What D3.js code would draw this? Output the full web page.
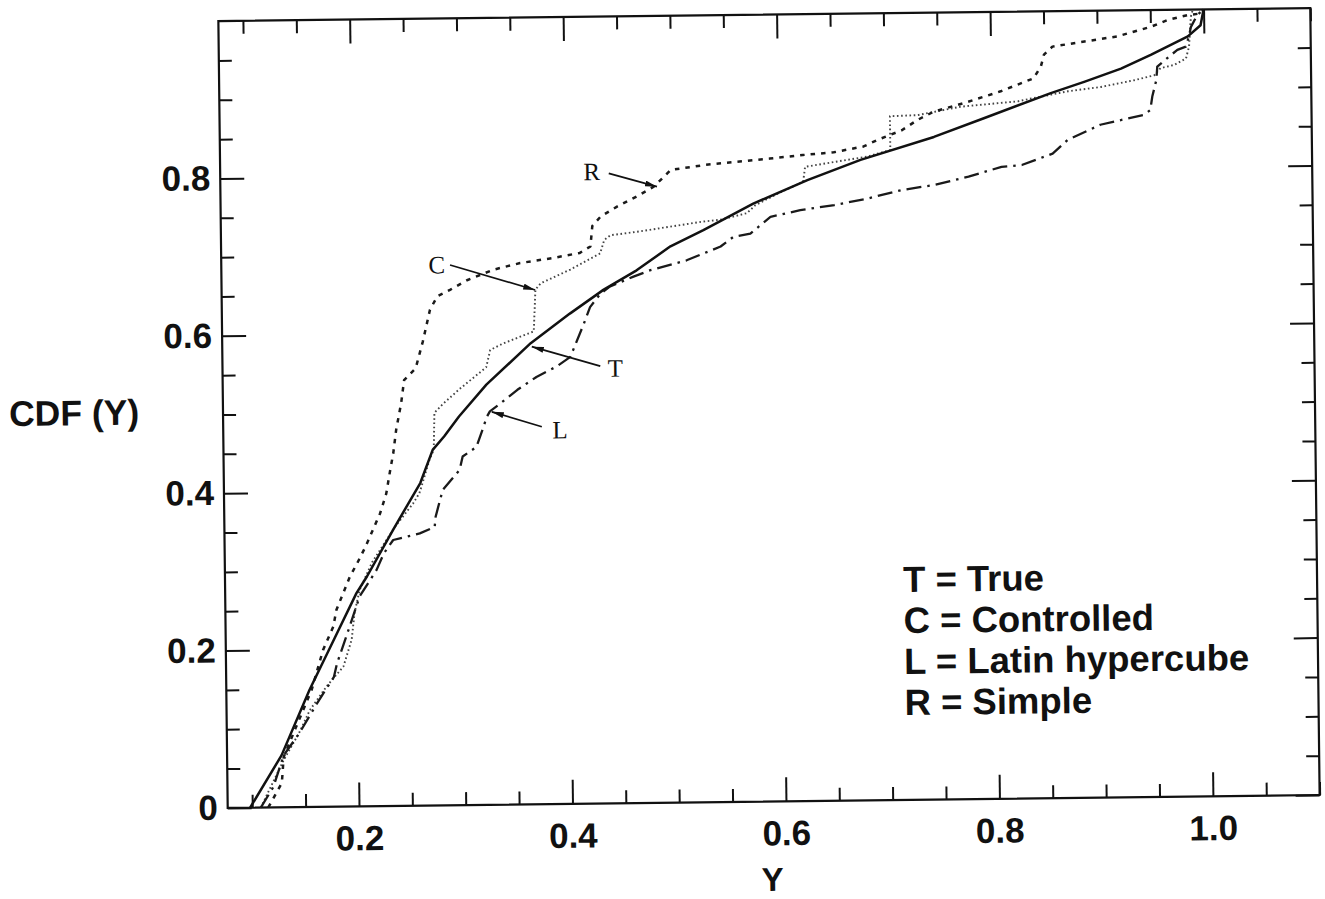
<!DOCTYPE html>
<html>
<head>
<meta charset="utf-8">
<script src="https://cdn.jsdelivr.net/npm/d3@7"></script>
<style>
  html, body { margin: 0; padding: 0; background: #fff; }
  svg { display: block; }
</style>
</head>
<body>
<svg id="chart" width="1325" height="899"></svg>
<script>
// ---------- data ----------
const xMajorTicks = [0.2, 0.4, 0.6, 0.8, 1.0];
const yMajorTicks = [0, 0.2, 0.4, 0.6, 0.8, 1.0];
const yTickLabels = [0, 0.2, 0.4, 0.6, 0.8];

// T = True (solid)
const seriesT = [[0.098,0],[0.128,0.066],[0.155,0.149],[0.179,0.214],[0.2,0.271],[0.21,0.292],[0.235,0.351],[0.261,0.41],[0.273,0.452],[0.284,0.469],[0.298,0.494],[0.324,0.534],[0.366,0.586],[0.403,0.623],[0.435,0.653],[0.466,0.677],[0.498,0.707],[0.529,0.727],[0.576,0.76],[0.627,0.789],[0.677,0.814],[0.746,0.842],[0.793,0.865],[0.856,0.896],[0.888,0.91],[0.922,0.926],[0.95,0.943],[0.985,0.966],[0.997,0.98],[1.0,1.0]];

// C = Controlled (dotted)
const seriesC = [[0.108,0],[0.13,0.06],[0.145,0.095],[0.155,0.123],[0.171,0.153],[0.187,0.178],[0.195,0.212],[0.198,0.246],[0.203,0.275],[0.215,0.31],[0.237,0.355],[0.244,0.367],[0.254,0.384],[0.26,0.397],[0.262,0.405],[0.27,0.44],[0.274,0.452],[0.275,0.499],[0.283,0.51],[0.299,0.529],[0.324,0.556],[0.328,0.578],[0.34,0.586],[0.369,0.601],[0.371,0.654],[0.376,0.662],[0.404,0.679],[0.432,0.699],[0.436,0.716],[0.442,0.722],[0.467,0.726],[0.498,0.732],[0.529,0.738],[0.545,0.74],[0.57,0.748],[0.578,0.758],[0.6,0.773],[0.623,0.787],[0.625,0.806],[0.683,0.818],[0.705,0.826],[0.705,0.869],[0.731,0.87],[0.771,0.88],[0.825,0.886],[0.84,0.89],[0.872,0.898],[0.903,0.903],[0.934,0.911],[0.953,0.917],[0.959,0.926],[0.972,0.93],[0.983,0.938],[0.986,0.953],[0.988,0.991],[0.99,1.0]];

// L = Latin hypercube (dash-dot)
const seriesL = [[0.108,0],[0.12,0.026],[0.13,0.066],[0.145,0.094],[0.162,0.132],[0.178,0.165],[0.181,0.182],[0.191,0.22],[0.203,0.267],[0.219,0.3],[0.226,0.321],[0.235,0.338],[0.26,0.346],[0.274,0.354],[0.275,0.367],[0.282,0.401],[0.298,0.426],[0.301,0.443],[0.314,0.455],[0.321,0.481],[0.324,0.493],[0.327,0.5],[0.337,0.51],[0.353,0.527],[0.371,0.543],[0.39,0.556],[0.403,0.568],[0.416,0.61],[0.422,0.631],[0.432,0.648],[0.441,0.657],[0.463,0.669],[0.479,0.677],[0.513,0.689],[0.545,0.706],[0.557,0.718],[0.573,0.722],[0.592,0.743],[0.62,0.751],[0.652,0.757],[0.684,0.765],[0.715,0.775],[0.746,0.781],[0.778,0.791],[0.809,0.803],[0.828,0.805],[0.857,0.819],[0.871,0.836],[0.902,0.855],[0.943,0.867],[0.949,0.873],[0.951,0.89],[0.955,0.911],[0.956,0.928],[0.963,0.936],[0.975,0.949],[0.983,0.953],[0.986,0.966],[0.988,0.978],[0.994,0.993],[1.0,1.0]];

// R = Simple (dashed)
const seriesR = [[0.115,0],[0.128,0.031],[0.13,0.064],[0.142,0.102],[0.157,0.149],[0.168,0.199],[0.178,0.229],[0.181,0.25],[0.194,0.292],[0.201,0.309],[0.209,0.33],[0.223,0.372],[0.229,0.397],[0.233,0.427],[0.236,0.448],[0.239,0.478],[0.244,0.512],[0.247,0.541],[0.258,0.556],[0.265,0.59],[0.272,0.63],[0.279,0.647],[0.291,0.655],[0.307,0.667],[0.332,0.68],[0.357,0.688],[0.388,0.694],[0.413,0.7],[0.423,0.708],[0.425,0.734],[0.433,0.746],[0.448,0.758],[0.467,0.771],[0.483,0.783],[0.493,0.796],[0.499,0.804],[0.532,0.81],[0.548,0.812],[0.592,0.817],[0.623,0.821],[0.652,0.824],[0.68,0.831],[0.693,0.839],[0.716,0.851],[0.731,0.864],[0.746,0.874],[0.778,0.886],[0.809,0.899],[0.84,0.915],[0.847,0.93],[0.85,0.945],[0.858,0.955],[0.888,0.961],[0.919,0.967],[0.951,0.979],[0.966,0.987],[0.985,0.993],[0.998,0.995],[1.0,1.0]];

// curve labels: [text, labelX, labelY, arrowStartX, arrowStartY, tipX, tipY] in data units
const curveLabels = [
  ["R", 0.425, 0.803, 0.441, 0.8007, 0.486, 0.783],
  ["C", 0.2788, 0.687, 0.2913, 0.6866, 0.3708, 0.6536],
  ["T", 0.445, 0.553, 0.4309, 0.5558, 0.367, 0.5816],
  ["L", 0.3926, 0.4753, 0.3755, 0.4797, 0.3288, 0.4994]
];

const legendLines = ["T = True", "C = Controlled", "L = Latin hypercube", "R = Simple"];

// ---------- layout ----------
const W = 1325, H = 899;
const plot = {left: 223, top: 14.6, right: 1315, bottom: 801.5};
const rot = {angle: -0.68, cx: 769, cy: 408};

const svg = d3.select("#chart");
svg.append("rect").attr("width", W).attr("height", H).attr("fill", "#fff");

const g = svg.append("g")
  .attr("transform", `rotate(${rot.angle},${rot.cx},${rot.cy})`);

const x = d3.scaleLinear().domain([0.077, 1.10]).range([plot.left, plot.right]);
const y = d3.scaleLinear().domain([0, 1.0]).range([plot.bottom, plot.top]);

const xMinor = d3.range(0.1, 1.1001, 0.05).map(v => +v.toFixed(2)).filter(v => xMajorTicks.indexOf(v) < 0);
const yMinor = d3.range(0.05, 1.0001, 0.05).map(v => +v.toFixed(2)).filter(v => yMajorTicks.indexOf(v) < 0 && v < 1.0);

const fmt = d => d === 0 ? "0" : d.toFixed(1);
const MAJ = 24, MIN = 13;
const labelFont = "'Liberation Sans', Arial, Helvetica, sans-serif";

function styleAxis(sel) {
  sel.select(".domain").remove();
  sel.selectAll(".tick line").attr("stroke", "#111").attr("stroke-width", 2);
  sel.selectAll(".tick text").attr("fill", "#111")
    .attr("font-family", labelFont).attr("font-weight", "bold").attr("font-size", 35);
}

// bottom
g.append("g").attr("transform", `translate(0,${plot.bottom})`)
  .call(d3.axisBottom(x).tickValues(xMinor).tickSize(-MIN).tickFormat(""))
  .call(styleAxis);
g.append("g").attr("transform", `translate(0,${plot.bottom})`)
  .call(d3.axisBottom(x).tickValues(xMajorTicks).tickSize(-MAJ).tickPadding(19).tickFormat(fmt))
  .call(styleAxis);
// top
g.append("g").attr("transform", `translate(0,${plot.top})`)
  .call(d3.axisTop(x).tickValues(xMinor).tickSize(-MIN).tickFormat(""))
  .call(styleAxis);
g.append("g").attr("transform", `translate(0,${plot.top})`)
  .call(d3.axisTop(x).tickValues(xMajorTicks).tickSize(-MAJ).tickFormat(""))
  .call(styleAxis);
// left
g.append("g").attr("transform", `translate(${plot.left},0)`)
  .call(d3.axisLeft(y).tickValues(yMinor).tickSize(-MIN).tickFormat(""))
  .call(styleAxis);
g.append("g").attr("transform", `translate(${plot.left},0)`)
  .call(d3.axisLeft(y).tickValues(yTickLabels).tickSize(-MAJ).tickPadding(10).tickFormat(fmt))
  .call(styleAxis);
// right
g.append("g").attr("transform", `translate(${plot.right},0)`)
  .call(d3.axisRight(y).tickValues(yMinor).tickSize(-MIN).tickFormat(""))
  .call(styleAxis);
g.append("g").attr("transform", `translate(${plot.right},0)`)
  .call(d3.axisRight(y).tickValues(yTickLabels).tickSize(-MAJ).tickFormat(""))
  .call(styleAxis);

// frame
g.append("rect")
  .attr("x", plot.left).attr("y", plot.top)
  .attr("width", plot.right - plot.left).attr("height", plot.bottom - plot.top)
  .attr("fill", "none").attr("stroke", "#111").attr("stroke-width", 2.2);

// curves
const line = d3.line().x(d => x(d[0])).y(d => y(d[1]));
const styles = [
  {data: seriesC, dash: "1.6,2.6", w: 1.9, c: "#444"},
  {data: seriesL, dash: "15,6,2.5,6", w: 2.3, c: "#1a1a1a"},
  {data: seriesR, dash: "4.5,6", w: 2.5, c: "#1a1a1a"},
  {data: seriesT, dash: null, w: 2.5, c: "#111"}
];
styles.forEach(s => {
  g.append("path").datum(s.data)
    .attr("d", line)
    .attr("fill", "none")
    .attr("stroke", s.c)
    .attr("stroke-width", s.w)
    .attr("stroke-dasharray", s.dash)
    .attr("stroke-linejoin", "round");
});

// arrow marker
svg.append("defs").append("marker")
  .attr("id", "arr").attr("viewBox", "0 0 12 6")
  .attr("refX", 12).attr("refY", 3)
  .attr("markerWidth", 12).attr("markerHeight", 6)
  .attr("markerUnits", "userSpaceOnUse")
  .attr("orient", "auto")
  .append("path").attr("d", "M0,0 L12,3 L0,6 Z").attr("fill", "#111");

curveLabels.forEach(l => {
  g.append("line")
    .attr("x1", x(l[3])).attr("y1", y(l[4]))
    .attr("x2", x(l[5])).attr("y2", y(l[6]))
    .attr("stroke", "#111").attr("stroke-width", 1.7)
    .attr("marker-end", "url(#arr)");
  g.append("text")
    .attr("x", x(l[1])).attr("y", y(l[2]))
    .attr("text-anchor", "middle").attr("dominant-baseline", "central")
    .attr("font-family", "'Liberation Serif', 'Times New Roman', serif")
    .attr("font-size", 25).attr("fill", "#111")
    .text(l[0]);
});

// legend
legendLines.forEach((t, i) => {
  g.append("text")
    .attr("x", 901).attr("y", 593.6 + i * 41)
    .attr("font-family", labelFont).attr("font-weight", "bold")
    .attr("font-size", 36.5).attr("fill", "#111")
    .text(t);
});

// axis titles
g.append("text")
  .attr("x", 9).attr("y", 417)
  .attr("font-family", labelFont).attr("font-weight", "bold")
  .attr("font-size", 35.5).attr("fill", "#111")
  .text("CDF (Y)");
g.append("text")
  .attr("x", 767).attr("y", 891)
  .attr("text-anchor", "middle")
  .attr("font-family", labelFont).attr("font-weight", "bold")
  .attr("font-size", 33).attr("fill", "#111")
  .text("Y");
</script>
</body>
</html>
